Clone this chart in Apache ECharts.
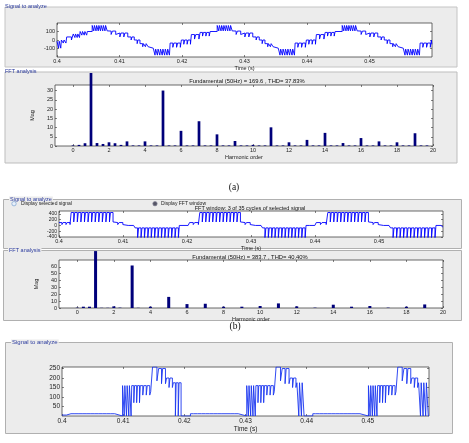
<!DOCTYPE html>
<html>
<head>
<meta charset="utf-8">
<script src="https://cdn.jsdelivr.net/npm/echarts@6/dist/echarts.min.js"></script>
<style>
  html, body { margin: 0; padding: 0; background: #fff; }
  #chart { width: 469px; height: 443px; }
</style>
</head>
<body>
<div id="chart"></div>
<script>
// tick labels
var timeTicks = [0.4, 0.41, 0.42, 0.43, 0.44, 0.45];
var orderTicks = [0, 2, 4, 6, 8, 10, 12, 14, 16, 18, 20];
var sigATicks = [-100, 0, 100];
var fftATicks = [0, 5, 10, 15, 20, 25, 30];
var sigBTicks = [-400, -200, 0, 200, 400];
var fftBTicks = [0, 10, 20, 30, 40, 50, 60];
var sigCTicks = [50, 100, 150, 200, 250];

// (a) signal: step bounds (s), low / high level of each step, switching pulses in it
var aBounds = [0.4, 0.4007, 0.40155, 0.4026, 0.4037, 0.40485, 0.40563, 0.40813, 0.4096, 0.4115, 0.4125, 0.4134, 0.4147, 0.4154, 0.4181, 0.4199, 0.4215, 0.4229, 0.4245, 0.42563,
  0.42813, 0.4296, 0.4315, 0.4325, 0.4334, 0.4347, 0.4354, 0.4381, 0.4399, 0.4415, 0.4429, 0.4445, 0.44563,
  0.44813, 0.4496, 0.4515, 0.4525, 0.4534, 0.4547, 0.4554, 0.4581, 0.4599, 0.46];
var aLo = [-96, -36, 0, 29, 57, 100, 107, 65, 36, 0, -43, -79, -96, -178, -86, -50, 11, 46, 100,
  107, 65, 36, 0, -43, -79, -96, -178, -86, -50, 11, 46, 100,
  107, 65, 36, 0, -43, -79, -96, -178, -86, -50];
var aHi = [-14, 0, 36, 71, 100, 100, 171, 105, 82, 36, 0, -43, -96, -107, -36, 0, 64, 89, 100,
  171, 105, 82, 36, 0, -43, -96, -107, -36, 0, 64, 89, 100,
  171, 105, 82, 36, 0, -43, -96, -107, -36, 0];
var aN = [2, 2, 1, 3, 3, 0, 7, 2, 3, 2, 2, 3, 0, 7, 3, 3, 2, 3, 0,
  7, 2, 3, 2, 2, 3, 0, 7, 3, 3, 2, 3, 0,
  7, 2, 3, 2, 2, 3, 0, 7, 3, 1];

// (a) FFT, one bar every 1/3 harmonic (3-cycle window), % of fundamental
var fftA = [0.3, 0.6, 1.5, 100, 1.6, 1.1, 2.0, 1.5, 0.6, 2.5, 0.3, 0.3, 2.5, 0.3, 0.3, 30,
  0.3, 0.3, 8.2, 0.3, 0.3, 13.4, 0.3, 0.3, 6.3, 0.3, 0.3, 2.7, 0.3, 0.3, 0.6,
  0.3, 0.3, 10.1, 0.3, 0.3, 2.0, 0.3, 0.3, 3.3, 0.3, 0.3, 7.1, 0.3, 0.3, 1.6,
  0.3, 0.3, 4.3, 0.3, 0.3, 2.5, 0.3, 0.3, 2.0, 0.3, 0.3, 6.9, 0.3, 0.3, 0];

// (b) signal
var bBounds = [0.4, 0.4019, 0.4086, 0.4102, 0.4119, 0.4188, 0.4204, 0.4220, 0.4285, 0.4301, 0.4318, 0.4386, 0.4402, 0.4420, 0.4485, 0.4501, 0.4518, 0.4589, 0.46];
var bLo = [30, 121, 30, -60, -448, -60, 30, 121, 30, -60, -448, -60, 30, 121, 30, -60, -448, -60];
var bHi = [100, 448, 100, 0, -85, 0, 100, 448, 100, 0, -85, 0, 100, 448, 100, 0, -85, 0];
var bN = [3, 12, 2, 2, 13, 2, 2, 12, 2, 2, 13, 2, 2, 12, 2, 2, 13, 1];

// (b) FFT
var fftB = [0.5, 1.9, 1.9, 100, 0.3, 0.3, 2.4, 0.5, 0, 62, 0.3, 0, 1.9, 0, 0, 16.2,
  0, 0, 5.7, 0, 0, 6.2, 0, 0, 1.9, 0, 0, 1.9, 0, 0, 2.9,
  0, 0, 6.7, 0, 0, 2.4, 0, 0, 0.5, 0, 0, 4.8, 0, 0, 1.9,
  0, 0, 2.9, 0, 0, 0.5, 0, 0, 1.9, 0, 0, 5.2, 0, 0, 0];

// (c) signal
var cBounds = [0.4, 0.4010, 0.4088, 0.4099, 0.4114, 0.4128, 0.4145, 0.4148, 0.4158, 0.4171, 0.4182, 0.4196, 0.4210,
  0.4290, 0.4302, 0.4317, 0.4331, 0.4347, 0.4350, 0.4360, 0.4373, 0.4384, 0.4397, 0.4410,
  0.4489, 0.4501, 0.4516, 0.4530, 0.4546, 0.4549, 0.4559, 0.4572, 0.4583, 0.46];
var cLo = [0, 3, 0, 0, 70, 110, 128, 185, 170, 150, 0, 0,
  3, 0, 0, 70, 110, 128, 185, 170, 150, 0, 0,
  3, 0, 0, 70, 110, 128, 185, 170, 150, 0];
var cHi = [5, 12, 0, 160, 160, 160, 128, 258, 250, 200, 175, 0,
  12, 0, 160, 160, 160, 128, 258, 250, 200, 175, 0,
  12, 0, 160, 160, 160, 128, 258, 250, 200, 175];
var cN = [1, 12, 0, 4, 3, 3, 0, 1, 2, 2, 3, 0,
  12, 0, 4, 3, 3, 0, 1, 2, 2, 3, 0,
  12, 0, 4, 3, 3, 0, 1, 2, 2, 4];

var FONT = 'Liberation Sans';
var LABEL_BLUE = '#2b3b9e';
// bars are cut by the panel edge, not by the axes box (as in the MATLAB gui)
var fftAVisibleTop = 39.5;
var fftBVisibleTop = 83;

// turn a step table into a polyline that sits on hi and dips briefly to lo
function pulseLine(bounds, lo, hi, n) {
  var pts = [];
  var duty = 0.72;
  for (var i = 0; i < lo.length; i++) {
    var t0 = bounds[i], t1 = bounds[i + 1];
    if (!n[i]) {
      pts.push([t0, hi[i]], [t1, hi[i]]);
      continue;
    }
    var p = (t1 - t0) / n[i];
    for (var j = 0; j < n[i]; j++) {
      var s = t0 + j * p;
      pts.push([s, hi[i]], [s + p * duty, hi[i]], [s + p * duty, lo[i]], [s + p, lo[i]]);
    }
  }
  return pts;
}

function barPairs(vals, top) {
  return vals.map(function (v, k) { return [k / 3, Math.min(v, top)]; });
}

function timeFmt(v) { return String(Math.round(v * 100) / 100); }

function xAxisOf(grid, min, max, ticks, name, gap, fs, pos) {
  var top = pos === 'top';
  return {
    type: 'value', gridIndex: grid, min: min, max: max, position: pos || 'bottom',
    name: top ? '' : name, nameLocation: 'middle', nameGap: gap,
    nameTextStyle: { fontSize: fs, fontFamily: FONT, color: '#222', verticalAlign: 'top' },
    axisLine: { show: false, onZero: false },
    splitLine: { show: false },
    axisTick: { show: true, inside: true, length: 2, customValues: ticks, lineStyle: { color: '#333', width: 0.6 } },
    axisLabel: { show: !top, customValues: ticks, margin: 1.5, fontSize: fs, fontFamily: FONT, color: '#222',
      showMinLabel: true, showMaxLabel: true, hideOverlap: false,
      formatter: function (v) { return min > 0 ? timeFmt(v) : String(v); } }
  };
}

function yAxisOf(grid, min, max, ticks, name, gap, fs, pos) {
  var right = pos === 'right';
  return {
    type: 'value', gridIndex: grid, min: min, max: max, position: pos || 'left',
    name: right ? '' : name, nameLocation: 'middle', nameGap: gap, nameRotate: 90,
    nameTextStyle: { fontSize: fs, fontFamily: FONT, color: '#222' },
    axisLine: { show: false, onZero: false },
    splitLine: { show: false },
    axisTick: { show: true, inside: true, length: 2, customValues: ticks, lineStyle: { color: '#333', width: 0.6 } },
    axisLabel: { show: !right, customValues: ticks, margin: 2, fontSize: fs, fontFamily: FONT, color: '#222',
      showMinLabel: true, showMaxLabel: true, hideOverlap: false }
  };
}

var grids = [
  { left: 57, top: 23, width: 375, height: 34 },
  { left: 55, top: 85, width: 378, height: 61 },
  { left: 59, top: 211, width: 384, height: 26 },
  { left: 59, top: 260, width: 384, height: 48 },
  { left: 62, top: 367, width: 367, height: 49 }
].map(function (g) {
  g.show = true;
  g.backgroundColor = '#fff';
  g.borderColor = '#444';
  g.borderWidth = 0.8;
  return g;
});

var xAxes = [
  xAxisOf(0, 0.4, 0.46, timeTicks, 'Time (s)', 3.5, 5.5),
  xAxisOf(1, -1, 20, orderTicks, 'Harmonic order', 4.5, 5.5),
  xAxisOf(2, 0.4, 0.46, timeTicks, 'Time (s)', 4, 5.5),
  xAxisOf(3, -1, 20, orderTicks, 'Harmonic order', 4, 5.5),
  xAxisOf(4, 0.4, 0.46, timeTicks, 'Time (s)', 7.5, 6.5),
  xAxisOf(0, 0.4, 0.46, timeTicks, '', 0, 5.5, 'top'),
  xAxisOf(1, -1, 20, orderTicks, '', 0, 5.5, 'top'),
  xAxisOf(2, 0.4, 0.46, timeTicks, '', 0, 5.5, 'top'),
  xAxisOf(3, -1, 20, orderTicks, '', 0, 5.5, 'top'),
  xAxisOf(4, 0.4, 0.46, timeTicks, '', 0, 6.5, 'top')
];

var yAxes = [
  yAxisOf(0, -200, 200, sigATicks, '', 0, 5.5),
  yAxisOf(1, 0, 33, fftATicks, 'Mag', 14, 5.5),
  yAxisOf(2, -400, 500, sigBTicks, '', 0, 5),
  yAxisOf(3, 0, 70, fftBTicks, 'Mag', 16, 5.5),
  yAxisOf(4, 0, 258, sigCTicks, '', 0, 6.5),
  yAxisOf(0, -200, 200, sigATicks, '', 0, 5.5, 'right'),
  yAxisOf(1, 0, 33, fftATicks, '', 0, 5.5, 'right'),
  yAxisOf(2, -400, 500, sigBTicks, '', 0, 5, 'right'),
  yAxisOf(3, 0, 70, fftBTicks, '', 0, 5.5, 'right'),
  yAxisOf(4, 0, 258, sigCTicks, '', 0, 6.5, 'right')
];

function panel(x, y, w, h, stroke) {
  return { type: 'rect', z: -100, shape: { x: x, y: y, width: w, height: h },
    style: { fill: '#ececec', stroke: stroke, lineWidth: 1 } };
}
function txt(x, y, s, size, color, align, extra) {
  var st = { text: s, x: x, y: y, fontSize: size, fontFamily: FONT, fill: color,
    align: align || 'left', verticalAlign: 'middle' };
  if (extra) for (var k in extra) st[k] = extra[k];
  return { type: 'text', z: 100, style: st };
}

var graphics = [
  panel(5, 7, 452, 60, '#c4c4c4'),
  panel(5, 72, 452, 91, '#bdbdbd'),
  panel(3.5, 199.5, 458, 49, '#b0b0b0'),
  panel(3.5, 250.5, 458, 70, '#b0b0b0'),
  panel(5.5, 342.5, 447, 91, '#b0b0b0'),
  txt(5, 6, 'Signal to analyze', 5.5, LABEL_BLUE),
  txt(5, 71, 'FFT analysis', 5.5, LABEL_BLUE),
  txt(9, 199.5, 'Signal to analyze', 5.5, LABEL_BLUE, 'left', { backgroundColor: '#ececec', padding: [0, 1] }),
  txt(8, 250.5, 'FFT analysis', 5.5, LABEL_BLUE, 'left', { backgroundColor: '#ececec', padding: [0, 1] }),
  txt(11, 342.5, 'Signal to analyze', 6, LABEL_BLUE, 'left', { backgroundColor: '#ececec', padding: [0, 1] }),
  txt(247, 81, 'Fundamental (50Hz) = 169.6 , THD= 37.83%', 5.8, '#111', 'center'),
  txt(250, 208.7, 'FFT window: 3 of 35 cycles of selected signal', 5.5, '#111', 'center'),
  txt(250, 257.5, 'Fundamental (50Hz) = 383.7 , THD= 40.40%', 5.8, '#111', 'center'),
  { type: 'circle', z: 100, shape: { cx: 14, cy: 203.7, r: 2.2 }, style: { fill: '#e8f0fa', stroke: '#7aa0d0', lineWidth: 0.7 } },
  txt(21, 203.7, 'Display selected signal', 5, '#222'),
  { type: 'circle', z: 100, shape: { cx: 155, cy: 203.7, r: 2.2 }, style: { fill: '#556', stroke: '#889', lineWidth: 0.7 } },
  txt(161, 203.7, 'Display FFT window', 5, '#222'),
  txt(234, 187.5, '(a)', 9.5, '#111', 'center', { fontFamily: 'Liberation Serif' }),
  txt(235, 326, '(b)', 9.5, '#111', 'center', { fontFamily: 'Liberation Serif' })
];

var lineStyleBlue = { color: '#0000ff', width: 0.9 };

var chart = echarts.init(document.getElementById('chart'), null, { renderer: 'canvas' });
chart.setOption({
  animation: false,
  backgroundColor: '#ffffff',
  grid: grids,
  xAxis: xAxes,
  yAxis: yAxes,
  graphic: graphics,
  series: [
    { type: 'line', xAxisIndex: 0, yAxisIndex: 0, symbol: 'none', clip: true,
      lineStyle: lineStyleBlue, data: pulseLine(aBounds, aLo, aHi, aN) },
    { type: 'bar', xAxisIndex: 1, yAxisIndex: 1, barWidth: 2.7, clip: false,
      itemStyle: { color: '#00007a' }, data: barPairs(fftA, fftAVisibleTop) },
    { type: 'line', xAxisIndex: 2, yAxisIndex: 2, symbol: 'none', clip: true,
      lineStyle: lineStyleBlue, data: pulseLine(bBounds, bLo, bHi, bN) },
    { type: 'bar', xAxisIndex: 3, yAxisIndex: 3, barWidth: 3, clip: false,
      itemStyle: { color: '#00007a' }, data: barPairs(fftB, fftBVisibleTop) },
    { type: 'line', xAxisIndex: 4, yAxisIndex: 4, symbol: 'none', clip: true,
      lineStyle: { color: '#1a35f0', width: 0.9 }, data: pulseLine(cBounds, cLo, cHi, cN) }
  ]
});
</script>
</body>
</html>
